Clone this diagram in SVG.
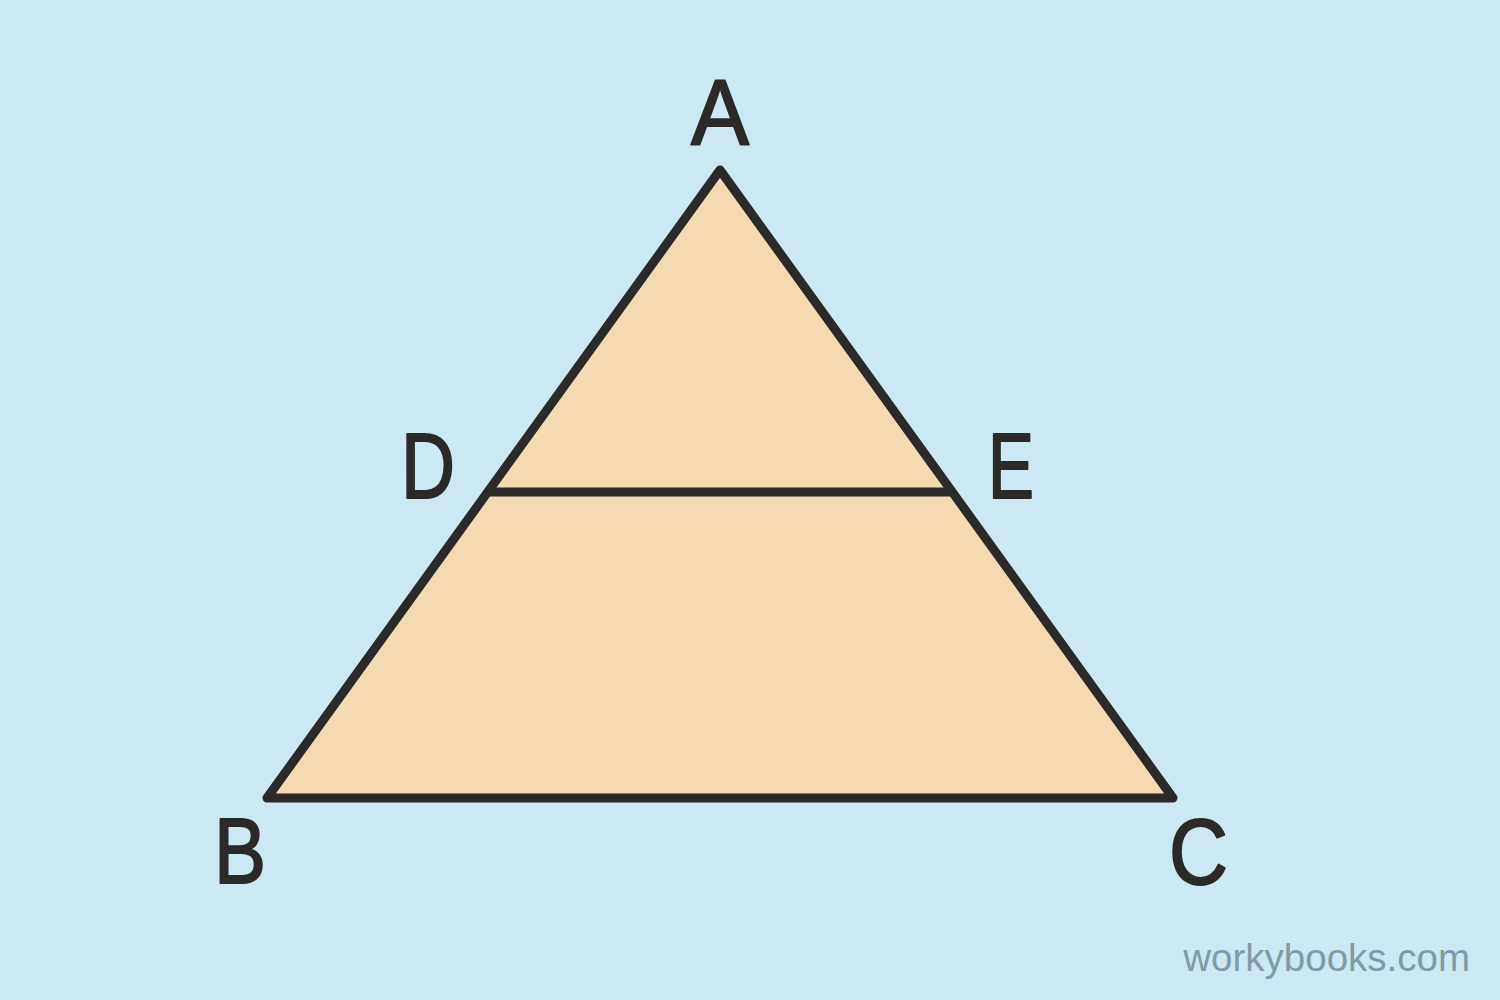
<svg xmlns="http://www.w3.org/2000/svg" width="1500" height="1000" viewBox="0 0 1500 1000">
<style>
.lbl{font-family:"Liberation Sans","DejaVu Sans",sans-serif;font-size:92px;fill:#2b2a29;stroke:#2b2a29;stroke-width:2px;stroke-linejoin:round}
.edge{stroke:#2b2a29;stroke-width:9;stroke-linejoin:round;stroke-linecap:round;fill:none}
</style>
<rect width="1500" height="1000" fill="#cce8f2"/>
<g id="triangle">
<polygon points="720,170 267,798 1173,798" class="edge" style="fill:#f5d9b0"/>
</g>
<g id="connectors">
<line x1="488" y1="492" x2="952" y2="492" class="edge"/>
</g>
<g id="label-A"><text class="lbl" x="720" y="145" text-anchor="middle" textLength="58" lengthAdjust="spacingAndGlyphs">A</text></g>
<g id="label-D"><text class="lbl" x="401" y="498" textLength="54" lengthAdjust="spacingAndGlyphs">D</text></g>
<g id="label-E"><text class="lbl" x="988" y="498" textLength="46" lengthAdjust="spacingAndGlyphs">E</text></g>
<g id="label-B"><text class="lbl" x="214" y="883" textLength="52" lengthAdjust="spacingAndGlyphs">B</text></g>
<g id="label-C"><text class="lbl" x="1169" y="884" textLength="59" lengthAdjust="spacingAndGlyphs">C</text></g>
<text x="1470" y="971" text-anchor="end" font-family="Liberation Sans, Arial, sans-serif" font-size="38.5" fill="#7f9ba6">workybooks.com</text>
</svg>
